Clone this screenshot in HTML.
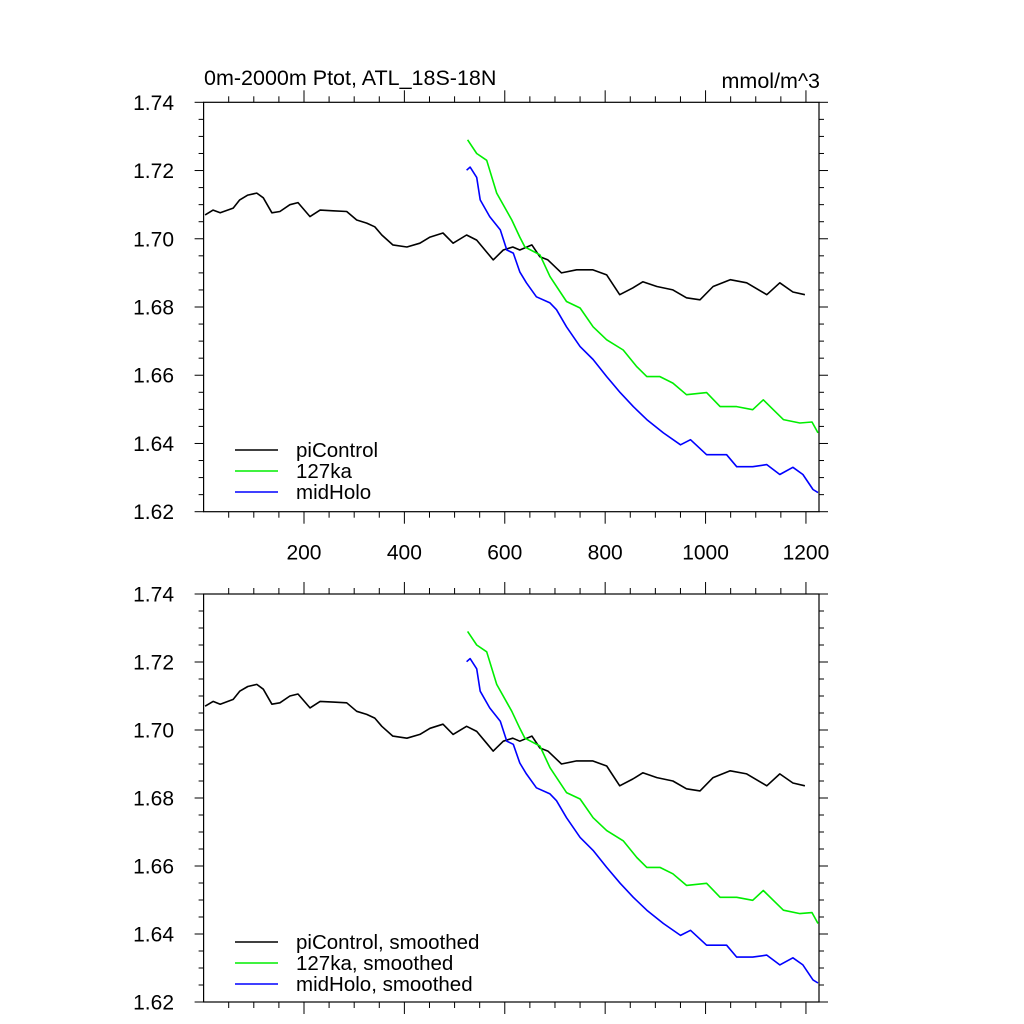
<!DOCTYPE html>
<html><head><meta charset="utf-8"><style>
html,body{margin:0;padding:0;background:#fff;}
svg{display:block;font-family:"Liberation Sans",sans-serif;}
</style></head><body>
<svg id="chart" width="1024" height="1024" xmlns="http://www.w3.org/2000/svg">
<text x="204" y="85" font-size="21.5">0m-2000m Ptot, ATL_18S-18N</text>
<text x="820" y="88" font-size="21.5" text-anchor="end">mmol/m^3</text>
<g id="p1"></g>
<g id="p2"></g>
</svg>
<script>
const piYears=[3,19,33,59,72,88,106,119,136,152,172,188,212,232,258,285,305,325,341,355,377,405,431,451,477,497,524,544,564,577,597,616,630,654,670,686,713,743,775,803,829,855,875,903,935,962,989,1015,1049,1082,1122,1148,1174,1198];
const piValues=[1.707,1.7084,1.7076,1.709,1.7114,1.7128,1.7134,1.712,1.7076,1.708,1.710,1.7106,1.7065,1.7084,1.7082,1.708,1.7055,1.7046,1.7035,1.7011,1.6982,1.6976,1.6987,1.7005,1.7017,1.6987,1.7011,1.6996,1.6961,1.6938,1.6967,1.6976,1.6967,1.6982,1.6947,1.6938,1.690,1.6909,1.6909,1.6894,1.6836,1.6856,1.6874,1.686,1.685,1.6827,1.6821,1.686,1.688,1.6871,1.6836,1.6871,1.6844,1.6836];
const lgYears=[526,544,564,584,614,630,640,670,690,723,750,776,803,836,863,883,909,935,962,1002,1029,1062,1094,1115,1135,1155,1188,1212,1224];
const lgValues=[1.729,1.725,1.723,1.7134,1.7055,1.7005,1.6976,1.6953,1.6889,1.6816,1.6797,1.6742,1.6704,1.6674,1.6625,1.6596,1.6596,1.6577,1.6543,1.6549,1.6508,1.6508,1.6499,1.6528,1.6499,1.647,1.646,1.6463,1.6431];
const mhYears=[524,531,544,551,570,591,604,617,630,643,663,690,703,723,750,776,803,830,856,883,916,950,970,1002,1042,1062,1094,1122,1148,1174,1194,1214,1224];
const mhValues=[1.7201,1.721,1.718,1.7114,1.7065,1.7026,1.6967,1.6958,1.6903,1.6871,1.683,1.6812,1.6792,1.6742,1.6684,1.6646,1.6596,1.6549,1.6508,1.647,1.6431,1.6396,1.6411,1.6367,1.6367,1.6332,1.6332,1.6338,1.6309,1.633,1.6309,1.6265,1.6256];
const yTicks=[1.62,1.64,1.66,1.68,1.70,1.72,1.74];
const xTicks=[200,400,600,800,1000,1200];

const NS="http://www.w3.org/2000/svg";
const X0=203.6,X1=819,XMAX=1226;
function sx(v){return X0+v/XMAX*(X1-X0);}
function mk(tag,attrs,parent){const e=document.createElementNS(NS,tag);for(const k in attrs)e.setAttribute(k,attrs[k]);parent.appendChild(e);return e;}

function panel(g,top,bot,showXLabels,legendNames,legendY){
  const sy=v=>bot-(v-1.62)/0.12*(bot-top);
  const frame=mk('rect',{x:X0,y:top,width:X1-X0,height:bot-top,fill:'none',stroke:'#000','stroke-width':1.2},g);
  
  
  for(let v=1.62;v<=1.7401;v+=0.005){
    const major=Math.abs(Math.round(v*100)-v*100)<1e-6&&Math.round(v*100)%2===0;
    const L=major?9:5;const y=sy(v);
    const t1=mk('line',{x1:X0-L,x2:X0,y1:y,y2:y,stroke:'#000','stroke-width':1},g);
    
    
    const t2=mk('line',{x1:X1,x2:X1+L,y1:y,y2:y,stroke:'#000','stroke-width':1},g);
    
    
  }
  yTicks.forEach(v=>{
    const t=mk('text',{x:174,y:sy(v)+7.5,'font-size':21,'text-anchor':'end'},g);
    t.textContent=v.toFixed(2);
    
    
  });
  for(let v=50;v<XMAX;v+=50){
    const major=v%200===0;const L=major?12:6;const x=sx(v);
    const a=mk('line',{x1:x,x2:x,y1:top-L,y2:top,stroke:'#000','stroke-width':1},g);
    
    
    const b=mk('line',{x1:x,x2:x,y1:bot,y2:bot+L,stroke:'#000','stroke-width':1},g);
    
    
  }
  if(showXLabels){xTicks.forEach(v=>{
    const t=mk('text',{x:sx(v),y:bot+48,'font-size':21,'text-anchor':'middle'},g);
    t.textContent=v;
    
    
  });}
  const series=[[piYears,piValues,'#000'],[lgYears,lgValues,'#00ee00'],[mhYears,mhValues,'#0000ff']];
  const names=['picontrol-line','127ka-line','midholo-line'];
  series.forEach((s,i)=>{
    const d=s[0].map((yr,j)=>(j?'L':'M')+sx(yr).toFixed(1)+' '+sy(s[1][j]).toFixed(1)).join(' ');
    const p=mk('path',{d:d,fill:'none',stroke:s[2],'stroke-width':1.6,'stroke-linejoin':'round'},g);
    
    
    const ly=legendY+i*21;
    const ll=mk('line',{x1:235,x2:278,y1:ly,y2:ly,stroke:s[2],'stroke-width':1.6},g);
    
    
    const lt=mk('text',{x:296,y:ly+7,'font-size':20.5},g);
    lt.textContent=legendNames[i];
    
    
  });
}
panel(document.getElementById('p1'),102.3,511.7,true,['piControl','127ka','midHolo'],450);
panel(document.getElementById('p2'),594,1002,false,['piControl, smoothed','127ka, smoothed','midHolo, smoothed'],942);
</script>
</body></html>
